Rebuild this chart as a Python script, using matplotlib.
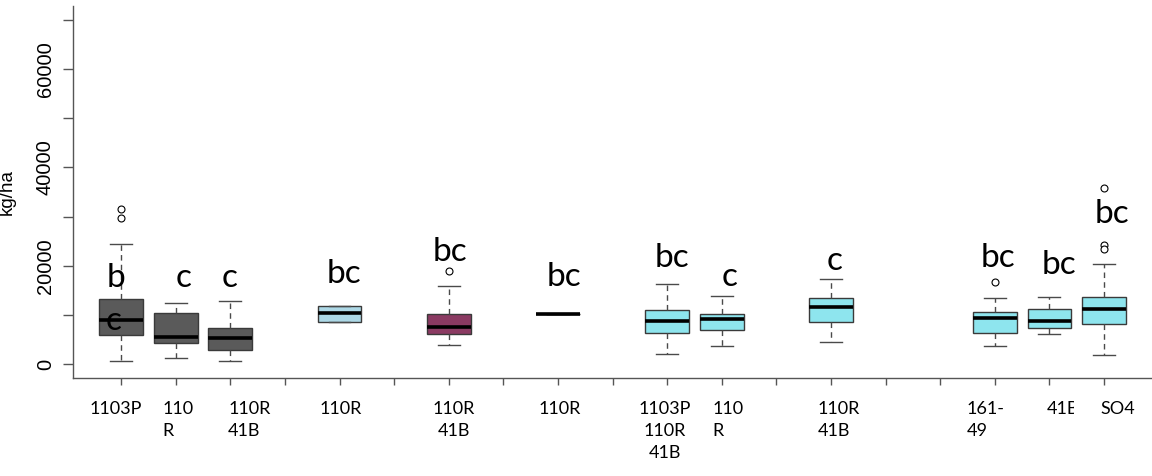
import matplotlib
matplotlib.use("Agg")
import matplotlib.pyplot as plt
import matplotlib.transforms as mtransforms
from matplotlib.patches import Rectangle

# ─── Data ─────────────────────────────────────────────────────────────────────
POSITIONS = [1, 2, 3, 5, 7, 9, 11, 12, 14, 17, 18, 19]
WHISLO = [750, 1290, 750, 8600, 3930, 10110, 2100, 3730, 4470, 3730, 6040, 1910]
Q1     = [5840, 4340, 2980, 8600, 6170, 10110, 6370, 6920, 8600, 6370, 7260, 8140]
MED    = [9010, 5630, 5290, 10370, 7530, 10110, 8810, 9290, 11660, 9420, 8810, 11120]
Q3     = [13280, 10440, 7460, 11860, 10110, 10110, 10920, 10110, 13360, 10510, 11250, 13560]
WHISHI = [24470, 12340, 12750, 11860, 15800, 10110, 16340, 13900, 17290, 13360, 13690, 20280]
FLIERS = [[31590, 29630], [], [], [], [18920], [], [], [], [], [16680], [], [35860, 24270, 23390]]

GRAY, LBLUE, MAROON, CYAN = "#5a5a5a", "#add8e6", "#8b3a62", "#8ee5ee"
BOX_COLORS = [GRAY, GRAY, GRAY, LBLUE, MAROON, "black", CYAN, CYAN, CYAN, CYAN, CYAN, CYAN]

# significance letters: (x, y baseline, text)
LETTER_X = [0.9, 0.87, 2.15, 2.99, 5.09, 7.02, 9.11, 11.09, 12.15, 14.07, 17.05, 18.17, 19.15]
LETTER_Y = [15660, 6920, 15660, 15660, 16480, 20950, 15870, 19730, 15870, 19120, 19730, 18300, 28680]
LETTERS  = ["b", "c", "c", "c", "bc", "bc", "bc", "bc", "c", "c", "bc", "bc", "bc"]

# category labels under the axis: (x, text, horizontal alignment)
XLAB_X  = [0.91, 1.75, 2.96, 5.02, 7.09, 9.04, 10.96, 11.83, 13.75, 16.49, 17.95, 18.93]
XLAB_T  = ["1103P", "110\nR", "110R\n41B", "110R", "110R\n41B", "110R",
           "1103P\n110R\n41B", "110\nR", "110R\n41B", "161-\n49", "41B", "SO4"]
XLAB_HA = ["center", "left", "left", "center", "center", "center",
           "center", "left", "left", "left", "left", "left"]

YTICKS_MAJOR = [0, 20000, 40000, 60000]
YTICKS_MINOR = [10000, 30000, 50000, 70000]

LABEL_FONT = ["Lato", "DejaVu Sans"]
AXIS_FONT = ["Liberation Sans", "DejaVu Sans"]

# ─── Plot ─────────────────────────────────────────────────────────────────────
fig = plt.figure(figsize=(11.52, 4.76), dpi=100)
ax = fig.add_axes([0.0634, 0.2059, 0.9366, 0.7815])

stats = []
for i in range(len(POSITIONS)):
    stats.append(dict(whislo=WHISLO[i], q1=Q1[i], med=MED[i], q3=Q3[i],
                      whishi=WHISHI[i], fliers=FLIERS[i]))

bp = ax.bxp(stats, positions=POSITIONS, widths=0.8, patch_artist=True,
            showfliers=True,
            boxprops=dict(edgecolor="#3a3a3a", linewidth=1.0),
            medianprops=dict(color="black", linewidth=2.6, solid_capstyle="butt"),
            whiskerprops=dict(color="#4a4a4a", linewidth=1.0, linestyle=(0, (4, 3))),
            capprops=dict(color="#4a4a4a", linewidth=1.0),
            capwidths=0.4,
            flierprops=dict(marker="o", markersize=5, markerfacecolor="white",
                            markeredgecolor="black", markeredgewidth=0.8))
for patch, c in zip(bp["boxes"], BOX_COLORS):
    patch.set_facecolor(c)

ax.set_xlim(0.12, 19.88)
ax.set_ylim(-2800, 72800)

ax.set_xticks(range(1, 20))
ax.set_xticklabels([])
ax.set_yticks(YTICKS_MAJOR)
ax.set_yticks(YTICKS_MINOR, minor=True)
ax.set_yticklabels([f"{v:d}" for v in YTICKS_MAJOR], fontsize=14.5, family=AXIS_FONT,
                   rotation=90, va="center")
ax.tick_params(axis="x", length=5, width=1.0, color="#555555")
ax.tick_params(axis="y", which="both", length=7, width=1.0, color="#555555", pad=6)

for s in ["top", "right"]:
    ax.spines[s].set_visible(False)
for s in ["left", "bottom"]:
    ax.spines[s].set_color("#555555")
    ax.spines[s].set_linewidth(1.0)

ax.set_ylabel("kg/ha", fontsize=13.5, family=AXIS_FONT)
ax.yaxis.set_label_coords(-0.053, 0.5)

for x, y, t in zip(LETTER_X, LETTER_Y, LETTERS):
    ax.text(x, y, t, fontsize=24, family=LABEL_FONT, ha="center", va="baseline")

trans = mtransforms.blended_transform_factory(ax.transData, ax.transAxes)
for x, t, ha in zip(XLAB_X, XLAB_T, XLAB_HA):
    txt = ax.text(x, -0.063, t, transform=trans, fontsize=13, family=LABEL_FONT,
                  ha=ha, va="top", multialignment=ha, linespacing=1.45, clip_on=False)
    if t == "41B":
        # the label is cut off by the neighbouring text box in the original
        txt.set_clip_path(Rectangle((0, -1), 18.45, 2, transform=trans))
        txt.set_clip_on(True)

fig.savefig("out.png", dpi=100)
